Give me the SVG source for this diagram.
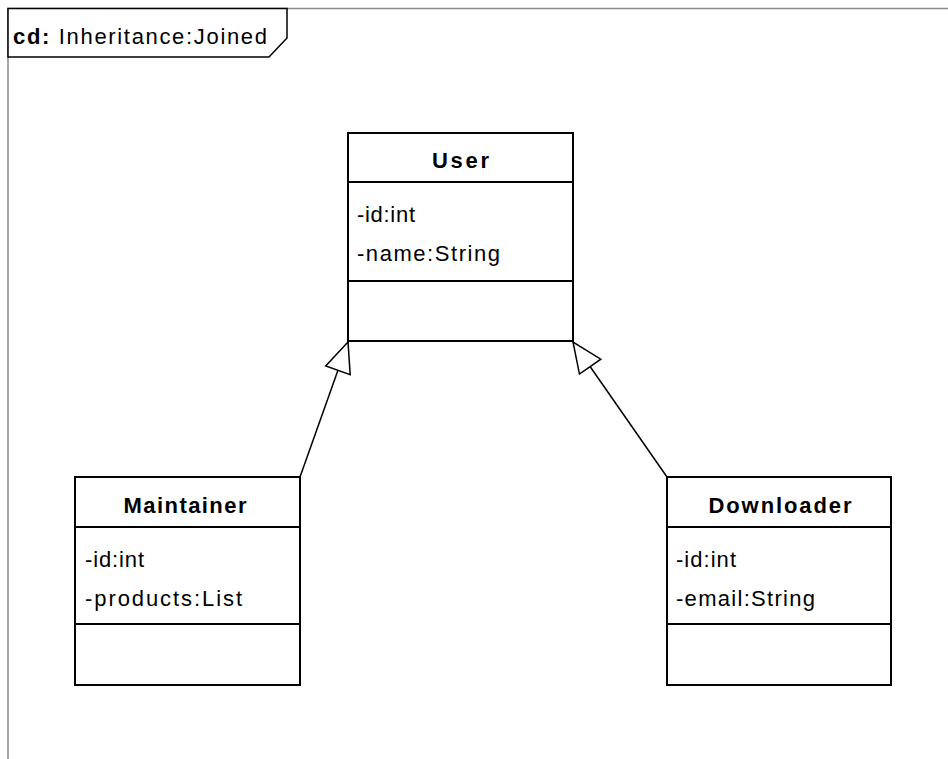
<svg xmlns="http://www.w3.org/2000/svg" width="948" height="759" viewBox="0 0 948 759">
<style>
.frame{fill:none;stroke:#8a8a8a;stroke-width:1.5}
.tab{fill:#fff;stroke:#000;stroke-width:1.5}
.box{fill:#fff;stroke:#000;stroke-width:2}
.div{stroke:#000;stroke-width:2}
.hdr{font-family:"Liberation Sans",Arial,sans-serif;font-size:22px;font-weight:bold;fill:#000;text-anchor:middle}
.att{font-family:"Liberation Sans",Arial,sans-serif;font-size:22px;fill:#000}
.gen{fill:none;stroke:#000;stroke-width:1.5}
</style>
<defs>
<marker id="tri" markerUnits="userSpaceOnUse" viewBox="-2 -2 34 30" markerWidth="34" markerHeight="30" refX="30" refY="13" orient="auto">
<path d="M30,13 L0,0 L0,26 Z" fill="#fff" stroke="#000" stroke-width="1.5"/>
</marker>
</defs>
<rect width="948" height="759" fill="#fff"/>
<g id="frame">
<path class="frame" d="M8,759 V8.5 H948"/>
<path class="tab" d="M8,8.5 H287 V38 L269,57 H8 Z"/>
<text x="13" y="44" class="att" font-size="20" textLength="254" lengthAdjust="spacing"><tspan font-weight="bold">cd:</tspan> Inheritance:Joined</text>
</g>
<g id="connectors">
<line class="gen" x1="300" y1="477" x2="348" y2="342" marker-end="url(#tri)"/>
<line class="gen" x1="667" y1="477" x2="573" y2="342" marker-end="url(#tri)"/>
</g>
<g id="User">
<rect class="box" x="348" y="133" width="225" height="208"/>
<line class="div" x1="348" y1="182" x2="573" y2="182"/>
<line class="div" x1="348" y1="281" x2="573" y2="281"/>
<text class="hdr" x="460.5" y="168" textLength="57" lengthAdjust="spacing">User</text>
<text class="att" x="357" y="222" textLength="58" lengthAdjust="spacing">-id:int</text>
<text class="att" x="357" y="261" textLength="143" lengthAdjust="spacing">-name:String</text>
</g>
<g id="Maintainer">
<rect class="box" x="75" y="477" width="225" height="208"/>
<line class="div" x1="75" y1="527" x2="300" y2="527"/>
<line class="div" x1="75" y1="624" x2="300" y2="624"/>
<text class="hdr" x="185" y="513" textLength="123" lengthAdjust="spacing">Maintainer</text>
<text class="att" x="85" y="567" textLength="59" lengthAdjust="spacing">-id:int</text>
<text class="att" x="85" y="606" textLength="157" lengthAdjust="spacing">-products:List</text>
</g>
<g id="Downloader">
<rect class="box" x="667" y="477" width="224" height="208"/>
<line class="div" x1="667" y1="527" x2="891" y2="527"/>
<line class="div" x1="667" y1="624" x2="891" y2="624"/>
<text class="hdr" x="780" y="513" textLength="143" lengthAdjust="spacing">Downloader</text>
<text class="att" x="676" y="567" textLength="60" lengthAdjust="spacing">-id:int</text>
<text class="att" x="676" y="606" textLength="139" lengthAdjust="spacing">-email:String</text>
</g>
</svg>
